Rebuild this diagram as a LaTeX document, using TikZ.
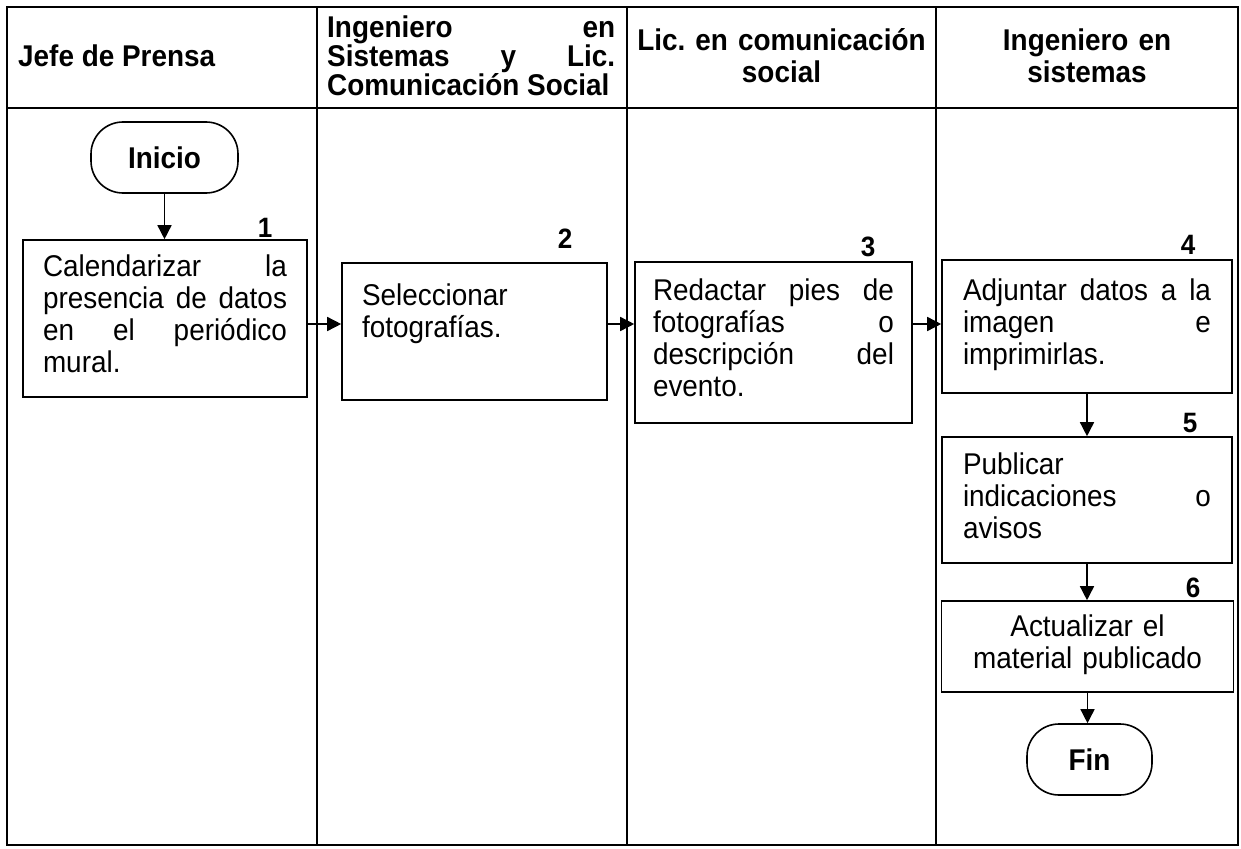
\documentclass[tikz,border=0pt]{standalone}
\usepackage{fontspec}
\setmainfont{Liberation Sans}[FakeStretch=0.93]
\usetikzlibrary{arrows.meta,calc}
\newcommand\myst{\rule{0pt}{23pt}}
\newcommand\bxst{\rule[-9.5pt]{0pt}{22.5pt}}
\begin{document}
\frenchspacing
\begin{tikzpicture}[x=1pt,y=-1pt,
  frame/.style={line width=2.2pt},
  lane/.style={line width=1.6pt},
  hd/.style={inner sep=0pt, font=\bfseries\fontsize{30}{32}\selectfont},
  pbox/.style={draw, line width=1.6pt, inner xsep=20pt, inner ysep=0pt, align=justify, font=\fontsize{30}{32}\selectfont},
  term/.style={draw, line width=1.6pt, rounded corners=32pt, minimum height=71pt, inner sep=0pt, font=\bfseries\fontsize{30}{32}\selectfont},
  num/.style={inner sep=0pt, anchor=base, font=\bfseries\fontsize{28}{30}\selectfont},
  arr/.style={line width=1.5pt, -{Triangle[length=14pt,width=14pt]}}]
\useasboundingbox (0,0) rectangle (1241,848);
% table
\draw[frame] (7,7) rectangle (1238,845);
\draw[lane] (7,108) -- (1238,108);
\draw[lane] (317,7) -- (317,845);
\draw[lane] (627,7) -- (627,845);
\draw[lane] (936,7) -- (936,845);
% headers
\node[hd, anchor=base west] (h1) at (18,67) {Jefe de Prensa};
\node[hd, anchor=north west, text width=288pt, align=justify, font=\bfseries\fontsize{30}{27}\selectfont] (h2) at (327,14) {\myst Ingeniero en\linebreak Sistemas y Lic.\linebreak Comunicación Social};
\node[hd, anchor=north, text width=300pt, align=center] (h3) at (781.5,27) {\myst Lic. en comunicación\\social};
\node[hd, anchor=north, text width=300pt, align=center] (h4) at (1087,27) {\myst Ingeniero en\\sistemas};
% terminals
\node[term, minimum width=147pt] (ini) at (164.5,157.5) {Inicio};
\node[term, minimum width=125pt] (fin) at (1089.5,759.5) {Fin};
% process boxes
\node[pbox, text width=244pt, minimum height=157pt] (b1) at (165,318.5) {\bxst Calendarizar la\linebreak presencia de datos\linebreak en el periódico\linebreak mural.\bxst};
\node[pbox, text width=225pt, minimum height=137pt, align=left] (b2) at (474.5,331.5) {\bxst Seleccionar\\fotografías.\\\bxst};
\node[pbox, text width=241pt, inner xsep=18pt, minimum height=161pt] (b3) at (773.5,342.5) {\bxst Redactar pies de\linebreak fotografías o\linebreak descripción del\linebreak evento.\bxst};
\node[pbox, text width=248pt, inner xsep=21pt, minimum height=133pt] (b4) at (1087,326.5) {\bxst Adjuntar datos a la\linebreak imagen e\linebreak imprimirlas.\bxst};
\node[pbox, text width=248pt, inner xsep=21pt, minimum height=126pt] (b5) at (1087,500) {\bxst Publicar\linebreak indicaciones o\linebreak avisos\bxst};
\node[pbox, text width=250pt, inner xsep=21pt, minimum height=91pt, align=center] (b6) at (1087.5,646.5) {\bxst Actualizar el\\material publicado\bxst};
% step numbers
\node[num] (n1) at (265,237) {1};
\node[num] (n2) at (565,248) {2};
\node[num] (n3) at (868,256) {3};
\node[num] (n4) at (1188,254) {4};
\node[num] (n5) at (1190,432) {5};
\node[num] (n6) at (1193,597) {6};
% connectors
\coordinate (flow) at (0,324);
\draw[arr] (ini.south) -- (ini.south |- b1.north);
\draw[arr] (b1.east |- flow) -- (b2.west |- flow);
\draw[arr] (b2.east |- flow) -- (b3.west |- flow);
\draw[arr] (b3.east |- flow) -- (b4.west |- flow);
\draw[arr] (b4.south) -- (b4.south |- b5.north);
\draw[arr] (b5.south) -- (b5.south |- b6.north);
\draw[arr] (b6.south) -- (b6.south |- fin.north);
\end{tikzpicture}
\end{document}
